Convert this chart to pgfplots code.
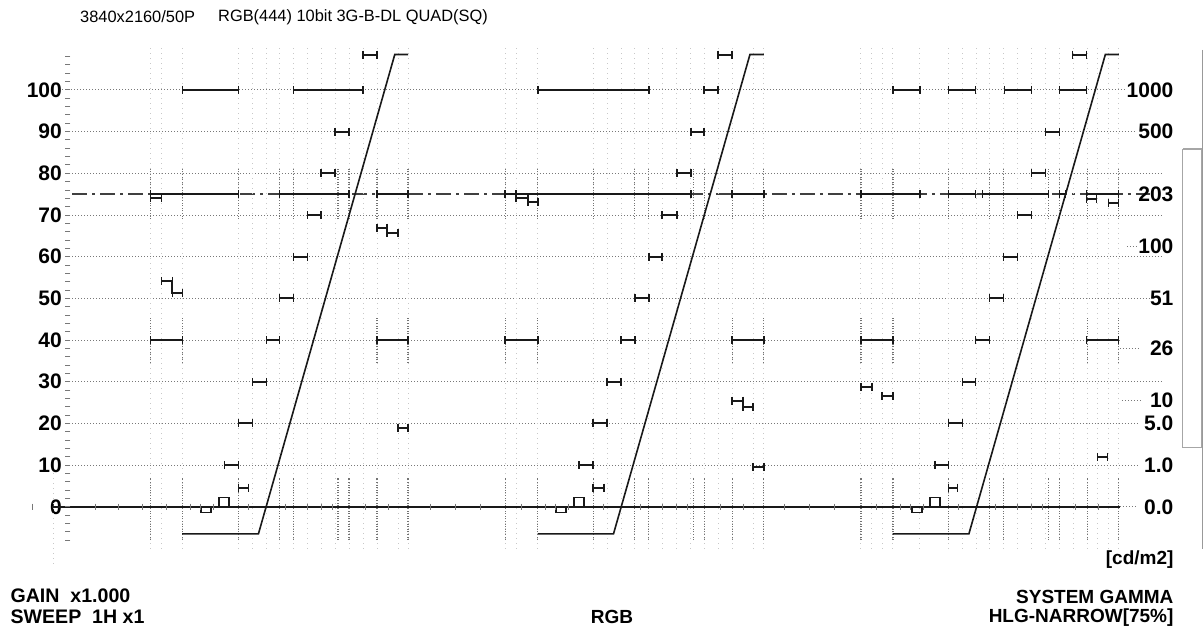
\documentclass[border=0pt]{standalone}
\usepackage{pgfplots}
\pgfplotsset{compat=1.18}
\usepackage{fontspec}
\setmainfont{Liberation Sans}

\definecolor{grat}{RGB}{120,120,120}
\definecolor{trace}{RGB}{200,200,200}
\definecolor{sig}{RGB}{25,25,25}

% one pixel of the screen = 0.5pt, y in waveform percent
\pgfplotsset{
  screen/.style={
    width=602pt, height=316pt, scale only axis,
    xmin=0, xmax=1204, ymin=-29.98, ymax=121.58,
    axis line style={draw=none},
    major tick length=0pt,
    xtick=\empty,
    clip=false,
    unbounded coords=jump,
  },
  dotgrid/.style={grat, line width=0.5pt, dash pattern=on 0.5pt off 1pt},
  faint/.style={trace, line width=0.5pt, dash pattern=on 0.5pt off 2pt},
  heavy/.style={black!55, line width=0.6pt, dash pattern=on 0.5pt off 0.8pt},
  seg/.style={sig, line width=1pt, mark=|, mark size=2pt, mark options={solid, line width=0.6pt}},
  thin/.style={sig, line width=0.8pt},
}

\begin{document}
\begin{tikzpicture}
\begin{axis}[screen,
  ytick={0,10,...,100},
  yticklabels={0,10,20,30,40,50,60,70,80,90,100},
  yticklabel style={anchor=east, inner sep=0pt, xshift=31pt,
    font=\fontsize{10.5}{12}\selectfont\bfseries},
]

% graticule
\pgfplotsinvokeforeach{30,60,70,80}{
  \addplot[dotgrid] coordinates {(66,#1) (1163,#1)};
}
\addplot[dotgrid] coordinates {(62,100) (1127,100)};
\addplot[dotgrid] coordinates {(66,90) (1137,90)};
\addplot[dotgrid] coordinates {(66,50) (1150,50)};
\addplot[dotgrid] coordinates {(66,40) (1120,40)};
\addplot[dotgrid] coordinates {(66,20) (1140,20)};
\addplot[dotgrid] coordinates {(66,10) (1140,10)};
\addplot[dotgrid] coordinates {(1120,0) (1137,0)};
\addplot[dotgrid] coordinates {(1127,62.5) (1137,62.5)};
\addplot[dotgrid] coordinates {(1120,38) (1140,38)};
\addplot[dotgrid] coordinates {(1122,25.5) (1142,25.5)};
\addplot[black!75, line width=1pt, dash pattern=on 7.5pt off 2.5pt on 1.5pt off 2.5pt]
  coordinates {(72,75) (1150,75)};

% left scale ticks
\addplot[only marks, mark=-, mark size=1.3pt, grat, mark options={line width=0.5pt}] coordinates {
(67.5,-8)(67.5,-6)(67.5,-4)(67.5,-2)(67.5,0)(67.5,2)(67.5,4)(67.5,6)(67.5,8)(67.5,10)
(67.5,12)(67.5,14)(67.5,16)(67.5,18)(67.5,20)(67.5,22)(67.5,24)(67.5,26)(67.5,28)(67.5,30)
(67.5,32)(67.5,34)(67.5,36)(67.5,38)(67.5,40)(67.5,42)(67.5,44)(67.5,46)(67.5,48)(67.5,50)
(67.5,52)(67.5,54)(67.5,56)(67.5,58)(67.5,60)(67.5,62)(67.5,64)(67.5,66)(67.5,68)(67.5,70)
(67.5,72)(67.5,74)(67.5,76)(67.5,78)(67.5,80)(67.5,82)(67.5,84)(67.5,86)(67.5,88)(67.5,90)
(67.5,92)(67.5,94)(67.5,96)(67.5,98)(67.5,100)(67.5,102)(67.5,104)(67.5,106)(67.5,108)};
\addplot[faint] coordinates {(53,8) (53,-14)};

% faint vertical traces
\pgfplotsinvokeforeach{150,161,182,238,252,266,279,293,307,321,335,349,363,377,398,408,
  505.5,516.5,537.5,593.5,607.5,621.5,634.5,648.5,662.5,676.5,690.5,704.5,718.5,732.5,753.5,763.5,
  861,872,883,893,920,949,963,977,990,1004,1018,1032,1046,1060,1074,1088,1098,1109,1119}{
  \addplot[faint] coordinates {(#1,-10) (#1,110)};
}
% darker traces at the main transitions
\pgfplotsinvokeforeach{150,182,238,279,293,338,349,377,408,
  505.5,537.5,593.5,634.5,648.5,693.5,704.5,732.5,763.5,
  861,893,949,990,1004,1049,1060,1088,1119}{
  \addplot[heavy] coordinates {(#1,-8) (#1,7)};
  \addplot[heavy] coordinates {(#1,69) (#1,81)};
}
\pgfplotsinvokeforeach{150,182,377,408,505.5,537.5,732.5,763.5,861,893,1088,1119}{
  \addplot[heavy] coordinates {(#1,34.5) (#1,45.5)};
}

% zero line and its ticks
\addplot[sig, line width=0.8pt] coordinates {(52,0) (1120,0)};
\addplot[only marks, mark=|, mark size=1.6pt, grat, mark options={line width=0.5pt}] coordinates {
(32,0)(95,0)(118,0)(142,0)(166,0)(190,0)(200,0)(213,0)(248,0)(285,0)(307,0)(321,0)(332,0)(365,0)(388,0)
(430,0)(455,0)(480,0)
(521.5,0)(545.5,0)(555.5,0)(568.5,0)(603.5,0)(640.5,0)(662.5,0)(676.5,0)(687.5,0)(720.5,0)(743.5,0)
(785,0)(810,0)(835,0)
(877,0)(901,0)(911,0)(924,0)(959,0)(996,0)(1018,0)(1032,0)(1043,0)(1076,0)(1099,0)};

% ---- channel 1 (R)
\addplot[seg] table {
x y
363 108.5
377 108.5
nan nan
182 100
238 100
nan nan
293 100
363 100
nan nan
335 90
349 90
nan nan
321 80
335 80
nan nan
150 75
238 75
nan nan
279 75
349 75
nan nan
377 75
408 75
nan nan
150 74.2
161 74.2
nan nan
307 70
321 70
nan nan
377 67
387 67
387 65.7
398 65.7
nan nan
293 60
307 60
nan nan
161 54.2
172 54.2
172 51.3
182 51.3
nan nan
279 50
293 50
nan nan
150 40
182 40
nan nan
266 40
279 40
nan nan
377 40
408 40
nan nan
252 30
266 30
nan nan
238 20
252 20
nan nan
398 18.9
408 18.9
nan nan
224 10
238 10
nan nan
238 4.6
248 4.6
};
\addplot[thin] coordinates {(219,0)(219,2.2)(229,2.2)(229,0) (nan,nan) (201,0)(201,-1.4)(211,-1.4)(211,0)};
\addplot[thin] coordinates {(182,-6.5)(258.3,-6.5)(394.7,108.5)(408,108.5)};

% ---- channel 2 (G)
\addplot[seg] table {
x y
718 108.5
732 108.5
nan nan
538 100
649 100
nan nan
704 100
718 100
nan nan
691 90
704 90
nan nan
677 80
691 80
nan nan
505 75
691 75
nan nan
732 75
764 75
nan nan
516 75
516 74
528 74
528 73.2
538 73.2
nan nan
662 70
677 70
nan nan
649 60
662 60
nan nan
635 50
649 50
nan nan
505 40
538 40
nan nan
621 40
635 40
nan nan
732 40
764 40
nan nan
607 30
621 30
nan nan
732 25.5
743 25.5
743 24
753 24
nan nan
593 20
607 20
nan nan
579 10
593 10
nan nan
753 9.6
764 9.6
nan nan
593 4.6
604 4.6
};
\addplot[thin] coordinates {(574,0)(574,2.2)(584,2.2)(584,0) (nan,nan) (556,0)(556,-1.4)(566,-1.4)(566,0)};
\addplot[thin] coordinates {(538,-6.5)(613.5,-6.5)(750,108.5)(764,108.5)};

% ---- channel 3 (B)
\addplot[seg] table {
x y
1073 108.5
1087 108.5
nan nan
893 100
920 100
nan nan
949 100
976 100
nan nan
1005 100
1032 100
nan nan
1060 100
1087 100
nan nan
1046 90
1060 90
nan nan
1032 80
1046 80
nan nan
861 75
920 75
nan nan
949 75
976 75
nan nan
983 75
1049 75
nan nan
1060 75
1066 75
nan nan
1087 75
1119 75
nan nan
1087 73.8
1097 73.8
nan nan
1109 73
1119 73
nan nan
1018 70
1032 70
nan nan
1004 60
1018 60
nan nan
990 50
1004 50
nan nan
861 40
893 40
nan nan
976 40
990 40
nan nan
1087 40
1119 40
nan nan
963 30
976 30
nan nan
861 28.8
872 28.8
nan nan
882 26.6
893 26.6
nan nan
949 20
963 20
nan nan
1098 12
1108 12
nan nan
935 10
949 10
nan nan
949 4.6
958 4.6
};
\addplot[thin] coordinates {(930,0)(930,2.2)(940,2.2)(940,0) (nan,nan) (912,0)(912,-1.4)(922,-1.4)(922,0)};
\addplot[thin] coordinates {(893,-6.5)(969,-6.5)(1105.5,108.5)(1119,108.5)};

% side bar on the right edge
\addplot[gray!70, line width=0.6pt] coordinates {(1183,85.85)(1202,85.85)(1202,14.15)(1183,14.15)(1183,85.85)};
\addplot[gray!80, line width=0.6pt] coordinates {(1203,109.6)(1203,-10)};

% screen texts
\node[anchor=west, font=\fontsize{8.2}{9}\selectfont] at (axis cs:73,117.5) {3840x2160/50P};
\node[anchor=west, font=\fontsize{8.2}{9}\selectfont] at (axis cs:211,117.5) {RGB(444) 10bit 3G-B-DL QUAD(SQ)};
\node[anchor=west, inner sep=0pt, font=\fontsize{9.8}{11}\selectfont\bfseries] at (axis cs:10,-21.3) {GAIN\ \ x1.000};
\node[anchor=west, inner sep=0pt, font=\fontsize{9.8}{11}\selectfont\bfseries] at (axis cs:10,-26.4) {SWEEP\ \ 1H x1};
\node[inner sep=0pt, font=\fontsize{9.5}{11}\selectfont\bfseries] at (axis cs:612,-26.4) {RGB};
\node[anchor=east, inner sep=0pt, font=\fontsize{9.5}{11}\selectfont\bfseries] at (axis cs:1174,-12.7) {[cd/m2]};
\node[anchor=east, inner sep=0pt, font=\fontsize{9.5}{11}\selectfont\bfseries] at (axis cs:1174,-21.6) {SYSTEM GAMMA};
\node[anchor=east, inner sep=0pt, font=\fontsize{9.5}{11}\selectfont\bfseries] at (axis cs:1174,-26.6) {HLG-NARROW[75\%]};
\end{axis}

% right hand luminance scale
\begin{axis}[screen,
  ytick={0,10,20,25.5,38,50,62.5,75,90,100},
  yticklabels={0.0,1.0,5.0,10,26,51,100,203,500,1000},
  yticklabel pos=right,
  yticklabel style={anchor=east, inner sep=0pt, xshift=-15pt,
    font=\fontsize{10.5}{12}\selectfont\bfseries},
]
\end{axis}
\end{tikzpicture}
\end{document}
